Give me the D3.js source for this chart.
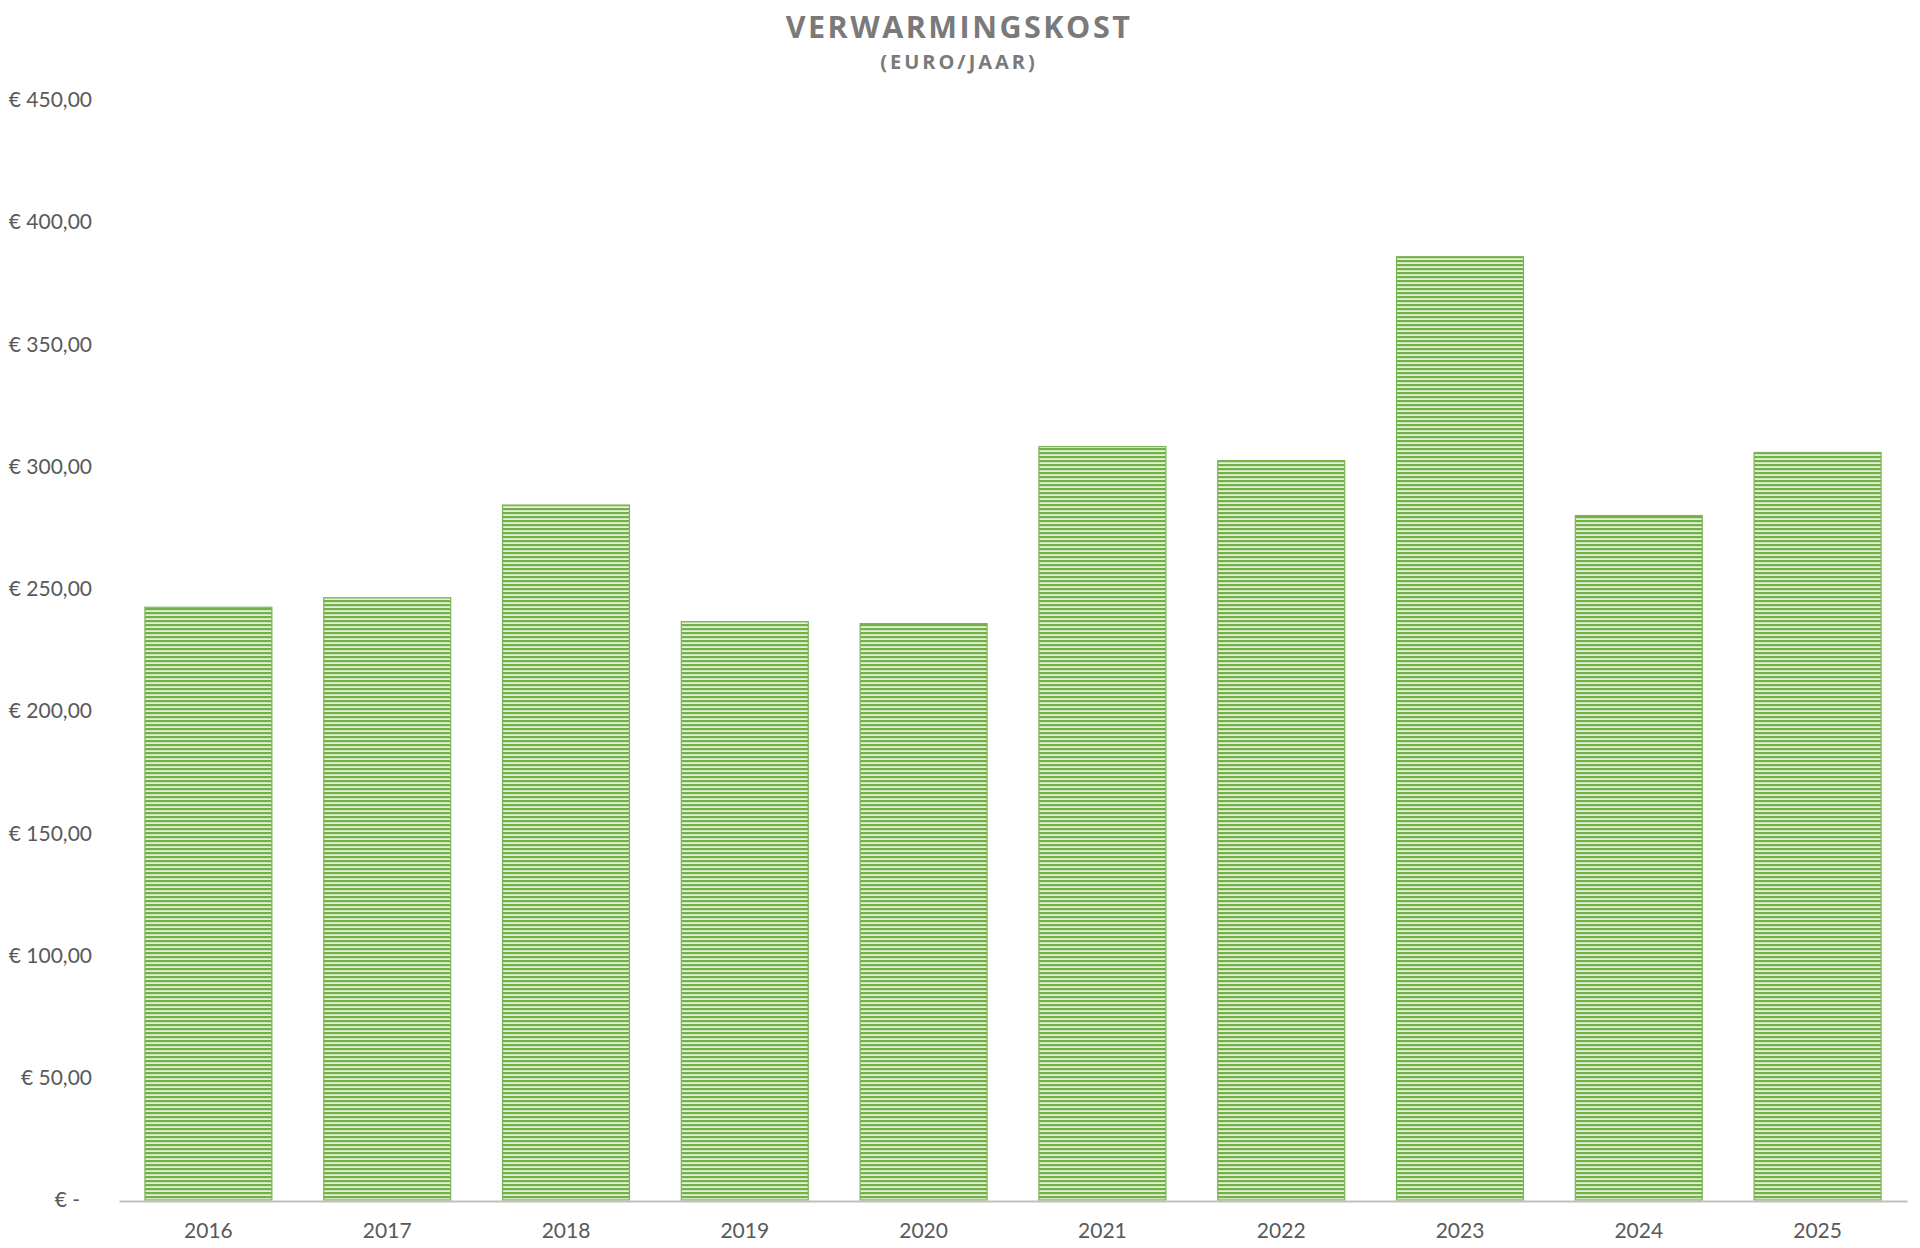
<!DOCTYPE html>
<html>
<head>
<meta charset="utf-8">
<script src="https://cdn.jsdelivr.net/npm/d3@7"></script>
<style>
  html, body { margin: 0; padding: 0; background: #ffffff; }
  svg { display: block; }
</style>
</head>
<body>
<svg id="chart" width="1920" height="1248"></svg>
<script>
const titleText = "VERWARMINGSKOST";
const subtitleText = "(EURO/JAAR)";
const years = ["2016", "2017", "2018", "2019", "2020", "2021", "2022", "2023", "2024", "2025"];
const costs = [242.5, 246.4, 284.3, 236.6, 235.8, 308.2, 302.5, 385.9, 280.0, 305.8];
const yTicks = [0, 50, 100, 150, 200, 250, 300, 350, 400, 450];

const svg = d3.select("#chart");
const margin = { left: 119, right: 13, top: 100, bottom: 48 };
const W = 1920, H = 1248;

const x = d3.scaleBand()
  .domain(years)
  .range([margin.left, W - margin.right])
  .paddingInner(0.29)
  .paddingOuter(0.145);

const y = d3.scaleLinear()
  .domain([0, 450])
  .range([1200, 100]);

// stripe pattern
const defs = svg.append("defs");
const pat = defs.append("pattern")
  .attr("id", "stripes")
  .attr("patternUnits", "userSpaceOnUse")
  .attr("width", 8).attr("height", 4);
pat.append("rect").attr("width", 8).attr("height", 4).attr("fill", "#e3f0da");
pat.append("rect").attr("y", 0).attr("width", 8).attr("height", 2.2).attr("fill", "#72b048");

// title
svg.append("text")
  .attr("x", 959).attr("y", 38)
  .attr("text-anchor", "middle")
  .attr("font-family", "'Open Sans', sans-serif")
  .attr("font-weight", 700)
  .attr("font-size", 30.5)
  .attr("letter-spacing", 2.5)
  .attr("fill", "#7a7a7a")
  .text(titleText);

svg.append("text")
  .attr("x", 959).attr("y", 69)
  .attr("text-anchor", "middle")
  .attr("font-family", "'Open Sans', sans-serif")
  .attr("font-weight", 700)
  .attr("font-size", 20)
  .attr("letter-spacing", 3)
  .attr("fill", "#7a7a7a")
  .text(subtitleText);

// bars
svg.append("g").selectAll("rect")
  .data(years.map((yr, i) => ({ yr, v: costs[i] })))
  .join("rect")
  .attr("x", d => x(d.yr))
  .attr("width", x.bandwidth())
  .attr("y", d => y(d.v))
  .attr("height", d => y(0) - y(d.v))
  .attr("fill", "url(#stripes)")
  .attr("stroke", "#7ab552")
  .attr("stroke-width", 1.2);

// y axis labels
const yAxis = d3.axisLeft(y)
  .tickValues(yTicks)
  .tickSize(0)
  .tickPadding(0)
  .tickFormat(d => d === 0 ? "€ -" : "€ " + d3.format(".2f")(d).replace(".", ","));
const yg = svg.append("g")
  .attr("transform", "translate(92,0)")
  .call(yAxis);
yg.select(".domain").remove();
yg.selectAll("text")
  .attr("font-family", "Lato, 'Open Sans', sans-serif")
  .attr("font-size", 21)
  .attr("fill", "#595959")
  .attr("dx", d => d === 0 ? -12 : 0);

// x axis
const xAxis = d3.axisBottom(x).tickSize(0).tickPadding(0);
const xg = svg.append("g")
  .attr("transform", "translate(0,1201)")
  .call(xAxis);
xg.select(".domain")
  .attr("stroke", "#bfbfbf")
  .attr("stroke-width", 2.2);
xg.selectAll("text")
  .attr("font-family", "Lato, 'Open Sans', sans-serif")
  .attr("font-size", 21)
  .attr("fill", "#595959")
  .attr("dy", "1.75em");
</script>
</body>
</html>
